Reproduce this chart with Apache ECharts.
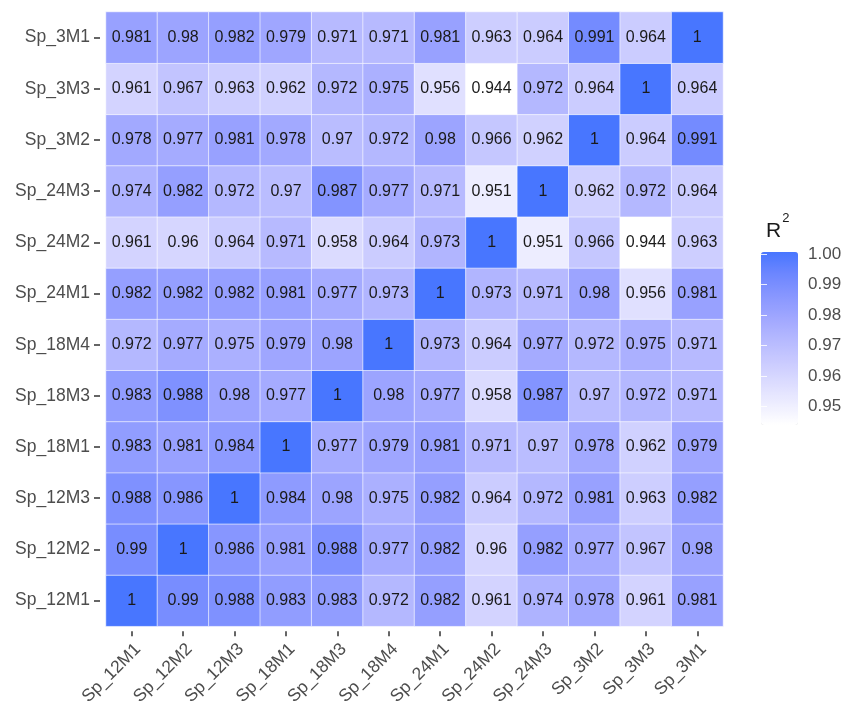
<!DOCTYPE html>
<html>
<head>
<meta charset="utf-8">
<script src="https://cdn.jsdelivr.net/npm/echarts@6/dist/echarts.min.js"></script>
<style>
  html, body { margin: 0; padding: 0; background: #ffffff; }
  #chart { width: 845px; height: 708px; }
</style>
</head>
<body>
<div id="chart"></div>
<script>
// Sample names, shared by both axes (first entry sits at the bottom of the y axis)
const samples = ['Sp_12M1', 'Sp_12M2', 'Sp_12M3', 'Sp_18M1', 'Sp_18M3', 'Sp_18M4',
                 'Sp_24M1', 'Sp_24M2', 'Sp_24M3', 'Sp_3M2', 'Sp_3M3', 'Sp_3M1'];

// Pairwise R² values, one row per sample in the same order as `samples`
const rSp_12M1 = [1, 0.99, 0.988, 0.983, 0.983, 0.972, 0.982, 0.961, 0.974, 0.978, 0.961, 0.981];
const rSp_12M2 = [0.99, 1, 0.986, 0.981, 0.988, 0.977, 0.982, 0.96, 0.982, 0.977, 0.967, 0.98];
const rSp_12M3 = [0.988, 0.986, 1, 0.984, 0.98, 0.975, 0.982, 0.964, 0.972, 0.981, 0.963, 0.982];
const rSp_18M1 = [0.983, 0.981, 0.984, 1, 0.977, 0.979, 0.981, 0.971, 0.97, 0.978, 0.962, 0.979];
const rSp_18M3 = [0.983, 0.988, 0.98, 0.977, 1, 0.98, 0.977, 0.958, 0.987, 0.97, 0.972, 0.971];
const rSp_18M4 = [0.972, 0.977, 0.975, 0.979, 0.98, 1, 0.973, 0.964, 0.977, 0.972, 0.975, 0.971];
const rSp_24M1 = [0.982, 0.982, 0.982, 0.981, 0.977, 0.973, 1, 0.973, 0.971, 0.98, 0.956, 0.981];
const rSp_24M2 = [0.961, 0.96, 0.964, 0.971, 0.958, 0.964, 0.973, 1, 0.951, 0.966, 0.944, 0.963];
const rSp_24M3 = [0.974, 0.982, 0.972, 0.97, 0.987, 0.977, 0.971, 0.951, 1, 0.962, 0.972, 0.964];
const rSp_3M2  = [0.978, 0.977, 0.981, 0.978, 0.97, 0.972, 0.98, 0.966, 0.962, 1, 0.964, 0.991];
const rSp_3M3  = [0.961, 0.967, 0.963, 0.962, 0.972, 0.975, 0.956, 0.944, 0.972, 0.964, 1, 0.964];
const rSp_3M1  = [0.981, 0.98, 0.982, 0.979, 0.971, 0.971, 0.981, 0.963, 0.964, 0.991, 0.964, 1];

const rows = [rSp_12M1, rSp_12M2, rSp_12M3, rSp_18M1, rSp_18M3, rSp_18M4,
              rSp_24M1, rSp_24M2, rSp_24M3, rSp_3M2, rSp_3M3, rSp_3M1];

// Colour bar breaks
const legendTicks = [0.95, 0.96, 0.97, 0.98, 0.99, 1.00];
const scaleMin = 0.944;
const scaleMax = 1;

// [xIndex, yIndex, value] triples for the heatmap
const cells = [];
rows.forEach((row, yi) => {
  row.forEach((v, xi) => cells.push([xi, yi, v]));
});

const FONT = '"Liberation Sans", Arial, Helvetica, sans-serif';
const AXIS_GREY = '#4d4d4d';

const chart = echarts.init(document.getElementById('chart'), null, { renderer: 'canvas' });

chart.setOption({
  backgroundColor: '#ffffff',
  animation: false,
  textStyle: { fontFamily: FONT },
  title: {
    text: '{r|R}{s|2}',
    left: 761,
    top: 207,
    textStyle: {
      fontWeight: 'normal',
      rich: {
        r: { fontFamily: FONT, fontSize: 21, fontWeight: 'normal', color: '#1a1a1a', verticalAlign: 'bottom', lineHeight: 30 },
        s: { fontFamily: FONT, fontSize: 13, fontWeight: 'normal', color: '#1a1a1a', verticalAlign: 'top', lineHeight: 30, padding: [0, 0, 0, 1] }
      }
    }
  },
  grid: [
    { left: 106, top: 12, width: 617, height: 617 },
    { left: 761, top: 254, width: 37, height: 171 }
  ],
  xAxis: [
    {
      type: 'category',
      gridIndex: 0,
      data: samples,
      offset: 5,
      axisLine: { show: false },
      axisTick: { show: true, alignWithLabel: true, length: 5, lineStyle: { color: '#333333', width: 1.5 } },
      axisLabel: {
        rotate: 45, margin: 9, color: AXIS_GREY, fontSize: 17.5, fontFamily: FONT,
        verticalAlign: 'top'
      },
      splitLine: { show: false }
    },
    { type: 'value', gridIndex: 1, show: false, min: 0, max: 1 }
  ],
  yAxis: [
    {
      type: 'category',
      gridIndex: 0,
      data: samples,
      offset: 6,
      axisLine: { show: false },
      axisTick: { show: true, alignWithLabel: true, length: 6, lineStyle: { color: '#333333', width: 1.5 } },
      axisLabel: { margin: 10, color: AXIS_GREY, fontSize: 17.5, fontFamily: FONT },
      splitLine: { show: false }
    },
    {
      type: 'value',
      gridIndex: 1,
      position: 'right',
      min: scaleMin,
      max: scaleMax,
      axisLine: { show: false },
      splitLine: { show: false },
      axisTick: {
        show: true, inside: true, length: 6,
        customValues: legendTicks,
        lineStyle: { color: 'rgba(255,255,255,0.85)', width: 1 }
      },
      axisLabel: {
        show: true, margin: 10, color: AXIS_GREY, fontSize: 17, fontFamily: FONT,
        customValues: legendTicks,
        formatter: v => v.toFixed(2)
      },
      z: 10
    },
    {
      type: 'value',
      gridIndex: 1,
      position: 'left',
      min: scaleMin,
      max: scaleMax,
      axisLine: { show: false },
      splitLine: { show: false },
      axisTick: {
        show: true, inside: true, length: 6,
        customValues: legendTicks,
        lineStyle: { color: 'rgba(255,255,255,0.85)', width: 1 }
      },
      axisLabel: { show: false },
      z: 10
    }
  ],
  visualMap: {
    type: 'continuous',
    seriesIndex: 0,
    dimension: 2,
    min: scaleMin,
    max: scaleMax,
    calculable: false,
    orient: 'vertical',
    left: 761,
    top: 252,
    itemWidth: 37,
    itemHeight: 173,
    padding: 0,
    text: null,
    showLabel: false,
    hoverLink: false,
    inRange: {
      color: ['#ffffff', '#ededff', '#dbdbff', '#c8c9ff', '#b4b8ff',
              '#9fa6ff', '#8796ff', '#6c86ff', '#4876ff']
    }
  },
  series: [
    {
      type: 'heatmap',
      xAxisIndex: 0,
      yAxisIndex: 0,
      data: cells,
      label: {
        show: true,
        color: '#1a1a1a',
        fontSize: 16,
        fontFamily: FONT,
        formatter: p => String(p.value[2])
      },
      itemStyle: { borderColor: 'rgba(255,255,255,0.6)', borderWidth: 1 },
      emphasis: { disabled: true }
    }
  ]
});
</script>
</body>
</html>
